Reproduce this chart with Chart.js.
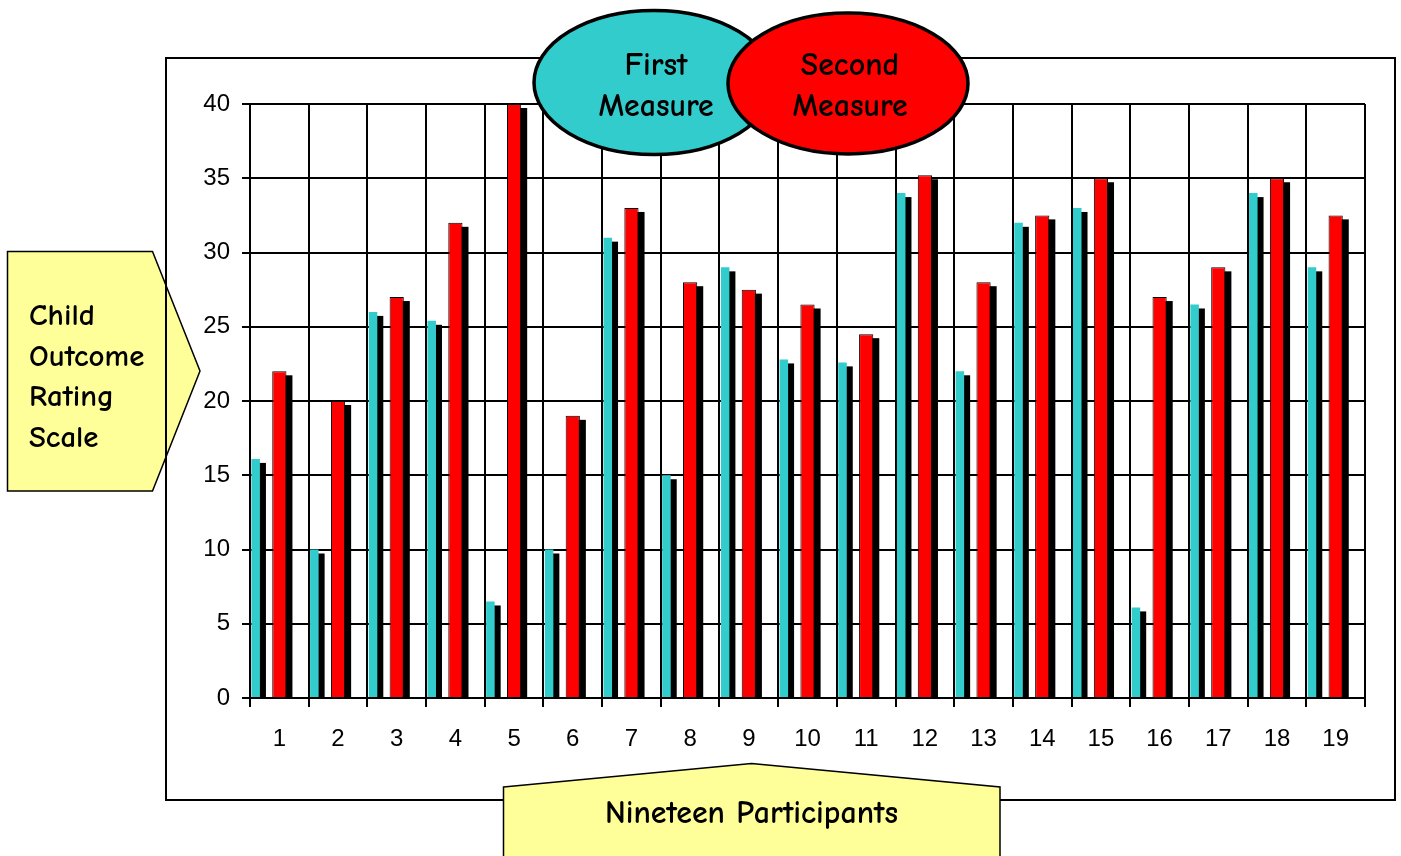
<!DOCTYPE html>
<html>
<head>
<meta charset="utf-8">
<script src="https://cdn.jsdelivr.net/npm/chart.js@4"></script>
<style>
  html, body { margin: 0; padding: 0; background: #fff; overflow: hidden; }
  #wrap { position: relative; width: 1401px; height: 856px; }
</style>
</head>
<body>
<div id="wrap"><canvas id="chart" width="1401" height="856"></canvas></div>
<script>
// Child Outcome Rating Scale scores, first and second measure, per participant
const participants = ['1','2','3','4','5','6','7','8','9','10','11','12','13','14','15','16','17','18','19'];
const firstMeasure  = [16.1, 10, 26, 25.4, 6.5, 10, 31, 15, 29, 22.8, 22.6, 34, 22, 32, 33, 6.1, 26.5, 34, 29];
const secondMeasure = [22, 20, 27, 32, 40, 19, 33, 28, 27.5, 26.5, 24.5, 35.2, 28, 32.5, 35, 27, 29, 35, 32.5];
const yTicks = [0, 5, 10, 15, 20, 25, 30, 35, 40];
const emptySlot = participants.map(() => null);

const HAND_FONT = '"Comic Sans MS", "Comic Neue", "DejaVu Sans", sans-serif';
const TICK_FONT = '"Liberation Sans", Arial, sans-serif';

// Hand-lettered text is sized so that the axis caption spans a fixed width
function handFont(ctx, weight, sizeFactor) {
  ctx.save();
  ctx.font = weight + ' 100px ' + HAND_FONT;
  const w = ctx.measureText('Nineteen Participants').width;
  ctx.restore();
  const size = 100 * 293 / w * sizeFactor;
  return weight + ' ' + size.toFixed(1) + 'px ' + HAND_FONT;
}

// Hard black drop shadow behind every bar of the flagged datasets
const barShadow = {
  id: 'barShadow',
  beforeDatasetsDraw(chart) {
    const ctx = chart.ctx;
    const area = chart.chartArea;
    ctx.save();
    ctx.beginPath();
    ctx.rect(area.left, area.top, area.right - area.left, area.bottom - area.top);
    ctx.clip();
    ctx.fillStyle = '#000';
    chart.data.datasets.forEach((ds, i) => {
      if (!ds.dropShadow) return;
      chart.getDatasetMeta(i).data.forEach(bar => {
        if (bar.skip) return;
        const left = bar.x - bar.width / 2 + 6;
        const top = Math.min(bar.y, bar.base) + 4;
        const h = Math.abs(bar.base - bar.y);
        ctx.fillRect(left, top, bar.width, h);
      });
    });
    ctx.restore();
  }
};

// Frame, callout shapes and the series ellipses
const decorations = {
  id: 'decorations',
  afterDraw(chart) {
    const ctx = chart.ctx;
    ctx.save();
    const font = handFont(ctx, 'bold', 1);
    const fontLeft = handFont(ctx, 'bold', 0.97);

    // left callout (y axis title)
    ctx.beginPath();
    ctx.moveTo(7.5, 251.5);
    ctx.lineTo(152.5, 251.5);
    ctx.lineTo(200, 371);
    ctx.lineTo(152.5, 491);
    ctx.lineTo(7.5, 491);
    ctx.closePath();
    ctx.fillStyle = '#FFFF99';
    ctx.fill();
    ctx.lineWidth = 1.5;
    ctx.strokeStyle = '#000';
    ctx.stroke();
    ctx.fillStyle = '#000';
    ctx.font = fontLeft;
    ctx.textAlign = 'left';
    ctx.textBaseline = 'alphabetic';
    ['Child', 'Outcome', 'Rating', 'Scale'].forEach((t, i) => ctx.fillText(t, 29, 325 + i * 40.7));

    // outer frame
    ctx.lineWidth = 2;
    ctx.strokeStyle = '#000';
    ctx.strokeRect(166, 58, 1229, 742);

    // bottom callout (x axis title)
    ctx.beginPath();
    ctx.moveTo(503.5, 787);
    ctx.lineTo(751.5, 763.5);
    ctx.lineTo(1000, 787);
    ctx.lineTo(1000, 870);
    ctx.lineTo(503.5, 870);
    ctx.closePath();
    ctx.fillStyle = '#FFFF99';
    ctx.fill();
    ctx.lineWidth = 1.5;
    ctx.stroke();
    ctx.fillStyle = '#000';
    ctx.font = font;
    ctx.textAlign = 'center';
    ctx.fillText('Nineteen Participants', 751.5, 823);

    // series ellipses
    const ellipses = [
      { cx: 654, cy: 82.5, rx: 120, ry: 72, fill: chart.data.datasets[0].backgroundColor, lines: ['First', 'Measure'] },
      { cx: 848, cy: 83.5, rx: 120, ry: 70.5, fill: chart.data.datasets[1].backgroundColor, lines: ['Second', 'Measure'] }
    ];
    ellipses.forEach(e => {
      ctx.beginPath();
      ctx.ellipse(e.cx, e.cy, e.rx, e.ry, 0, 0, Math.PI * 2);
      ctx.fillStyle = e.fill;
      ctx.fill();
      ctx.lineWidth = 3.5;
      ctx.strokeStyle = '#000';
      ctx.stroke();
      ctx.fillStyle = '#000';
      ctx.font = font;
      ctx.textAlign = 'center';
      ctx.fillText(e.lines[0], e.cx + 2, 75);
      ctx.fillText(e.lines[1], e.cx + 2, 116);
    });

    ctx.restore();
  }
};

new Chart(document.getElementById('chart'), {
  type: 'bar',
  data: {
    labels: participants,
    datasets: [
      {
        label: 'First Measure',
        data: firstMeasure,
        backgroundColor: '#33CCCC',
        borderWidth: 0,
        barPercentage: 0.36,
        dropShadow: true,
        clip: 0
      },
      {
        label: 'Second Measure',
        data: secondMeasure,
        backgroundColor: '#FF0000',
        borderColor: '#000',
        borderWidth: 1,
        borderSkipped: 'bottom',
        barPercentage: 0.6,
        dropShadow: true,
        clip: 0
      },
      {
        label: '',
        data: emptySlot,
        backgroundColor: 'rgba(0,0,0,0)',
        barPercentage: 0.6
      }
    ]
  },
  options: {
    responsive: false,
    animation: false,
    events: [],
    layout: { padding: { left: 0, top: 104, right: 36, bottom: 98 } },
    datasets: { bar: { categoryPercentage: 1.21 } },
    plugins: {
      legend: { display: false },
      title: { display: false },
      tooltip: { enabled: false }
    },
    scales: {
      x: {
        offset: true,
        grid: { offset: true, color: '#000', lineWidth: 2, drawTicks: true, tickLength: 9, tickColor: '#000' },
        border: { display: true, color: '#000', width: 2 },
        ticks: { color: '#000', font: { family: TICK_FONT, size: 24 }, padding: 18, maxRotation: 0, autoSkip: false },
        afterFit(scale) { scale.height = 60; }
      },
      y: {
        min: 0,
        max: 40,
        afterBuildTicks(scale) { scale.ticks = yTicks.map(v => ({ value: v })); },
        grid: { color: '#000', lineWidth: 2, drawTicks: true, tickLength: 8, tickColor: '#000' },
        border: { display: true, color: '#000', width: 2 },
        ticks: { color: '#000', font: { family: TICK_FONT, size: 24 }, padding: 12 },
        afterFit(scale) { scale.width = 250; }
      }
    }
  },
  plugins: [barShadow, decorations]
});
</script>
</body>
</html>
